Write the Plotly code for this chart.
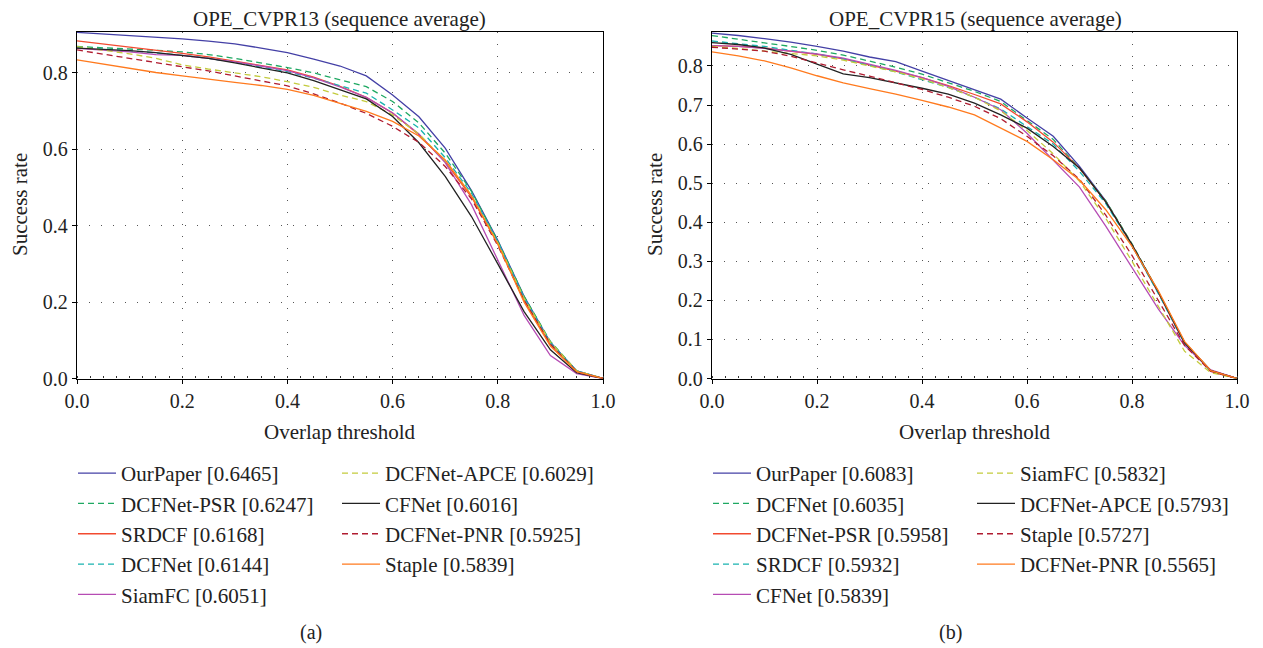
import plotly.graph_objects as go

# the page body has an 8px margin, so the figure is drawn 8px smaller and
# every position below is given in window pixels and shifted by OFF
OFF = 8
W, H = 1263 - OFF, 648 - OFF

# overlap thresholds
thr = [0.0, 0.05, 0.1, 0.15, 0.2, 0.25, 0.3, 0.35, 0.4, 0.45, 0.5,
       0.55, 0.6, 0.65, 0.7, 0.75, 0.8, 0.85, 0.9, 0.95, 1.0]

# ---- OPE_CVPR13 (a) ----
a_names = ["OurPaper [0.6465]", "DCFNet-PSR [0.6247]", "SRDCF [0.6168]", "DCFNet [0.6144]",
           "SiamFC [0.6051]", "DCFNet-APCE [0.6029]", "CFNet [0.6016]", "DCFNet-PNR [0.5925]",
           "Staple [0.5839]"]
a_ourpaper = [0.906, 0.902, 0.898, 0.894, 0.889, 0.883, 0.876, 0.865, 0.853, 0.836, 0.818,
              0.792, 0.742, 0.685, 0.603, 0.492, 0.362, 0.215, 0.095, 0.020, 0.0]
a_psr = [0.869, 0.866, 0.862, 0.859, 0.855, 0.848, 0.838, 0.826, 0.814, 0.800, 0.783,
         0.764, 0.725, 0.669, 0.590, 0.490, 0.360, 0.215, 0.097, 0.020, 0.0]
a_srdcf = [0.884, 0.876, 0.868, 0.859, 0.851, 0.842, 0.831, 0.820, 0.808, 0.789, 0.765,
           0.736, 0.695, 0.638, 0.567, 0.475, 0.352, 0.205, 0.088, 0.018, 0.0]
a_dcfnet = [0.866, 0.862, 0.858, 0.852, 0.846, 0.838, 0.828, 0.815, 0.803, 0.786, 0.766,
            0.747, 0.703, 0.656, 0.578, 0.485, 0.358, 0.212, 0.093, 0.020, 0.0]
a_siamfc = [0.864, 0.860, 0.855, 0.848, 0.846, 0.838, 0.829, 0.818, 0.806, 0.787, 0.763,
            0.736, 0.695, 0.640, 0.565, 0.455, 0.310, 0.165, 0.060, 0.013, 0.0]
a_apce = [0.869, 0.860, 0.850, 0.838, 0.821, 0.810, 0.800, 0.790, 0.777, 0.762, 0.742,
          0.725, 0.690, 0.640, 0.570, 0.480, 0.355, 0.210, 0.095, 0.020, 0.0]
a_cfnet = [0.865, 0.862, 0.858, 0.853, 0.846, 0.838, 0.826, 0.813, 0.800, 0.780, 0.757,
           0.732, 0.686, 0.617, 0.529, 0.424, 0.300, 0.175, 0.075, 0.015, 0.0]
a_pnr = [0.860, 0.849, 0.838, 0.827, 0.817, 0.805, 0.792, 0.778, 0.766, 0.745, 0.721,
         0.694, 0.660, 0.618, 0.555, 0.470, 0.348, 0.205, 0.090, 0.018, 0.0]
a_staple = [0.834, 0.823, 0.812, 0.801, 0.792, 0.783, 0.775, 0.767, 0.757, 0.741, 0.721,
            0.699, 0.673, 0.635, 0.572, 0.478, 0.352, 0.200, 0.085, 0.018, 0.0]

# ---- OPE_CVPR15 (b) ----
b_names = ["OurPaper [0.6083]", "DCFNet [0.6035]", "DCFNet-PSR [0.5958]", "SRDCF [0.5932]",
           "CFNet [0.5839]", "SiamFC [0.5832]", "DCFNet-APCE [0.5793]", "Staple [0.5727]",
           "DCFNet-PNR [0.5565]"]
b_ourpaper = [0.884, 0.878, 0.870, 0.861, 0.850, 0.838, 0.823, 0.811, 0.787, 0.763, 0.739,
              0.715, 0.667, 0.620, 0.543, 0.455, 0.340, 0.220, 0.090, 0.020, 0.0]
b_dcfnet = [0.878, 0.868, 0.859, 0.850, 0.840, 0.828, 0.813, 0.797, 0.779, 0.757, 0.735,
            0.709, 0.660, 0.612, 0.538, 0.455, 0.345, 0.222, 0.093, 0.020, 0.0]
b_psr = [0.852, 0.850, 0.846, 0.838, 0.830, 0.818, 0.803, 0.787, 0.770, 0.750, 0.727,
         0.703, 0.657, 0.605, 0.538, 0.452, 0.342, 0.220, 0.092, 0.020, 0.0]
b_srdcf = [0.864, 0.857, 0.850, 0.840, 0.831, 0.818, 0.802, 0.785, 0.765, 0.745, 0.720,
           0.690, 0.645, 0.600, 0.530, 0.448, 0.340, 0.218, 0.090, 0.020, 0.0]
b_cfnet = [0.852, 0.850, 0.845, 0.838, 0.831, 0.820, 0.805, 0.789, 0.770, 0.748, 0.720,
           0.688, 0.628, 0.560, 0.490, 0.390, 0.285, 0.178, 0.085, 0.022, 0.0]
b_siamfc = [0.850, 0.845, 0.838, 0.832, 0.826, 0.815, 0.800, 0.785, 0.767, 0.745, 0.720,
            0.685, 0.635, 0.575, 0.505, 0.410, 0.300, 0.185, 0.070, 0.015, 0.0]
b_apce = [0.860, 0.855, 0.846, 0.830, 0.805, 0.780, 0.770, 0.757, 0.743, 0.728, 0.705,
          0.675, 0.641, 0.594, 0.539, 0.452, 0.343, 0.222, 0.092, 0.020, 0.0]
b_staple = [0.848, 0.843, 0.838, 0.825, 0.807, 0.790, 0.774, 0.757, 0.740, 0.720, 0.697,
            0.665, 0.620, 0.570, 0.510, 0.418, 0.315, 0.200, 0.085, 0.018, 0.0]
b_pnr = [0.836, 0.826, 0.813, 0.795, 0.775, 0.757, 0.742, 0.728, 0.712, 0.695, 0.675,
         0.640, 0.607, 0.560, 0.508, 0.432, 0.338, 0.225, 0.095, 0.020, 0.0]

# colour / dash by rank, same in both panels
colors = ["#4440a6", "#1ea862", "#f24a30", "#19b3b0", "#b64cb4",
          "#c3cb3c", "#222222", "#b01c30", "#ff7a1e"]
dashes = ["solid", "6px,4px", "solid", "6px,4px", "solid",
          "6px,4px", "solid", "6px,4px", "solid"]

FONT = "Liberation Serif, Times New Roman, serif"

fig = go.Figure()

a_data = [a_ourpaper, a_psr, a_srdcf, a_dcfnet, a_siamfc, a_apce, a_cfnet, a_pnr, a_staple]
b_data = [b_ourpaper, b_dcfnet, b_psr, b_srdcf, b_cfnet, b_siamfc, b_apce, b_staple, b_pnr]

for i in range(9):
    fig.add_trace(go.Scatter(x=thr, y=a_data[i], name=a_names[i], mode="lines",
                             line=dict(color=colors[i], width=1.3, dash=dashes[i]),
                             xaxis="x", yaxis="y",
                             legend="legend" if i < 5 else "legend2"))
for i in range(9):
    fig.add_trace(go.Scatter(x=thr, y=b_data[i], name=b_names[i], mode="lines",
                             line=dict(color=colors[i], width=1.3, dash=dashes[i]),
                             xaxis="x2", yaxis="y2",
                             legend="legend3" if i < 5 else "legend4"))

def px(v):
    return (v - OFF) / W

def py(v):
    return 1 - (v - OFF) / H

axis_common = dict(showline=True, linecolor="black", linewidth=1.3, mirror=True,
                   showgrid=True, gridcolor="#555555", gridwidth=1.2, griddash="1px,11px",
                   zeroline=False, automargin=False,
                   tickfont=dict(family=FONT, size=20, color="#222"),
                   ticks="outside", ticklen=4, tickcolor="black")

fig.update_layout(
    width=W, height=H,
    margin=dict(l=0, r=0, t=0, b=0, autoexpand=False),
    paper_bgcolor="white", plot_bgcolor="white",
    font=dict(family=FONT, size=20, color="#222"),
    xaxis=dict(domain=[px(77), px(603)], range=[0, 1], dtick=0.2, tickformat=".1f",
               anchor="y", minor=dict(dtick=0.025, ticks="inside", ticklen=2, tickcolor="#333"),
               **axis_common),
    yaxis=dict(domain=[py(378.5), py(32)], range=[0, 0.907], dtick=0.2, tickformat=".1f",
               anchor="x", **axis_common),
    xaxis2=dict(domain=[px(712), px(1237)], range=[0, 1], dtick=0.2, tickformat=".1f",
                anchor="y2", minor=dict(dtick=0.025, ticks="inside", ticklen=2, tickcolor="#333"),
                **axis_common),
    yaxis2=dict(domain=[py(378.5), py(32)], range=[0, 0.887], dtick=0.1, tickformat=".1f",
                anchor="x2", **axis_common),
)

leg_common = dict(yanchor="top", xanchor="left", y=py(453), bgcolor="rgba(0,0,0,0)",
                  font=dict(family=FONT, size=21, color="#222"), itemwidth=38,
                  traceorder="normal", orientation="v")
fig.update_layout(
    legend=dict(x=px(73), **leg_common),
    legend2=dict(x=px(337), **leg_common),
    legend3=dict(x=px(708), **leg_common),
    legend4=dict(x=px(972), **leg_common),
)

ann = []
ann.append(dict(text="OPE_CVPR13 (sequence average)", x=px(340), y=py(19), size=21))
ann.append(dict(text="OPE_CVPR15 (sequence average)", x=px(975), y=py(19), size=21))
ann.append(dict(text="Overlap threshold", x=px(340), y=py(432), size=21))
ann.append(dict(text="Overlap threshold", x=px(975), y=py(432), size=21))
ann.append(dict(text="(a)", x=px(311), y=py(632), size=20))
ann.append(dict(text="(b)", x=px(950), y=py(632), size=20))
ann.append(dict(text="Success rate", x=px(20), y=py(205), textangle=-90, size=21))
ann.append(dict(text="Success rate", x=px(655), y=py(205), textangle=-90, size=21))
for a in ann:
    s = a.pop("size")
    a.update(xref="paper", yref="paper", showarrow=False, xanchor="center", yanchor="middle",
             font=dict(family=FONT, size=s, color="#222"))
fig.update_layout(annotations=ann)

fig.write_html("out.html")
